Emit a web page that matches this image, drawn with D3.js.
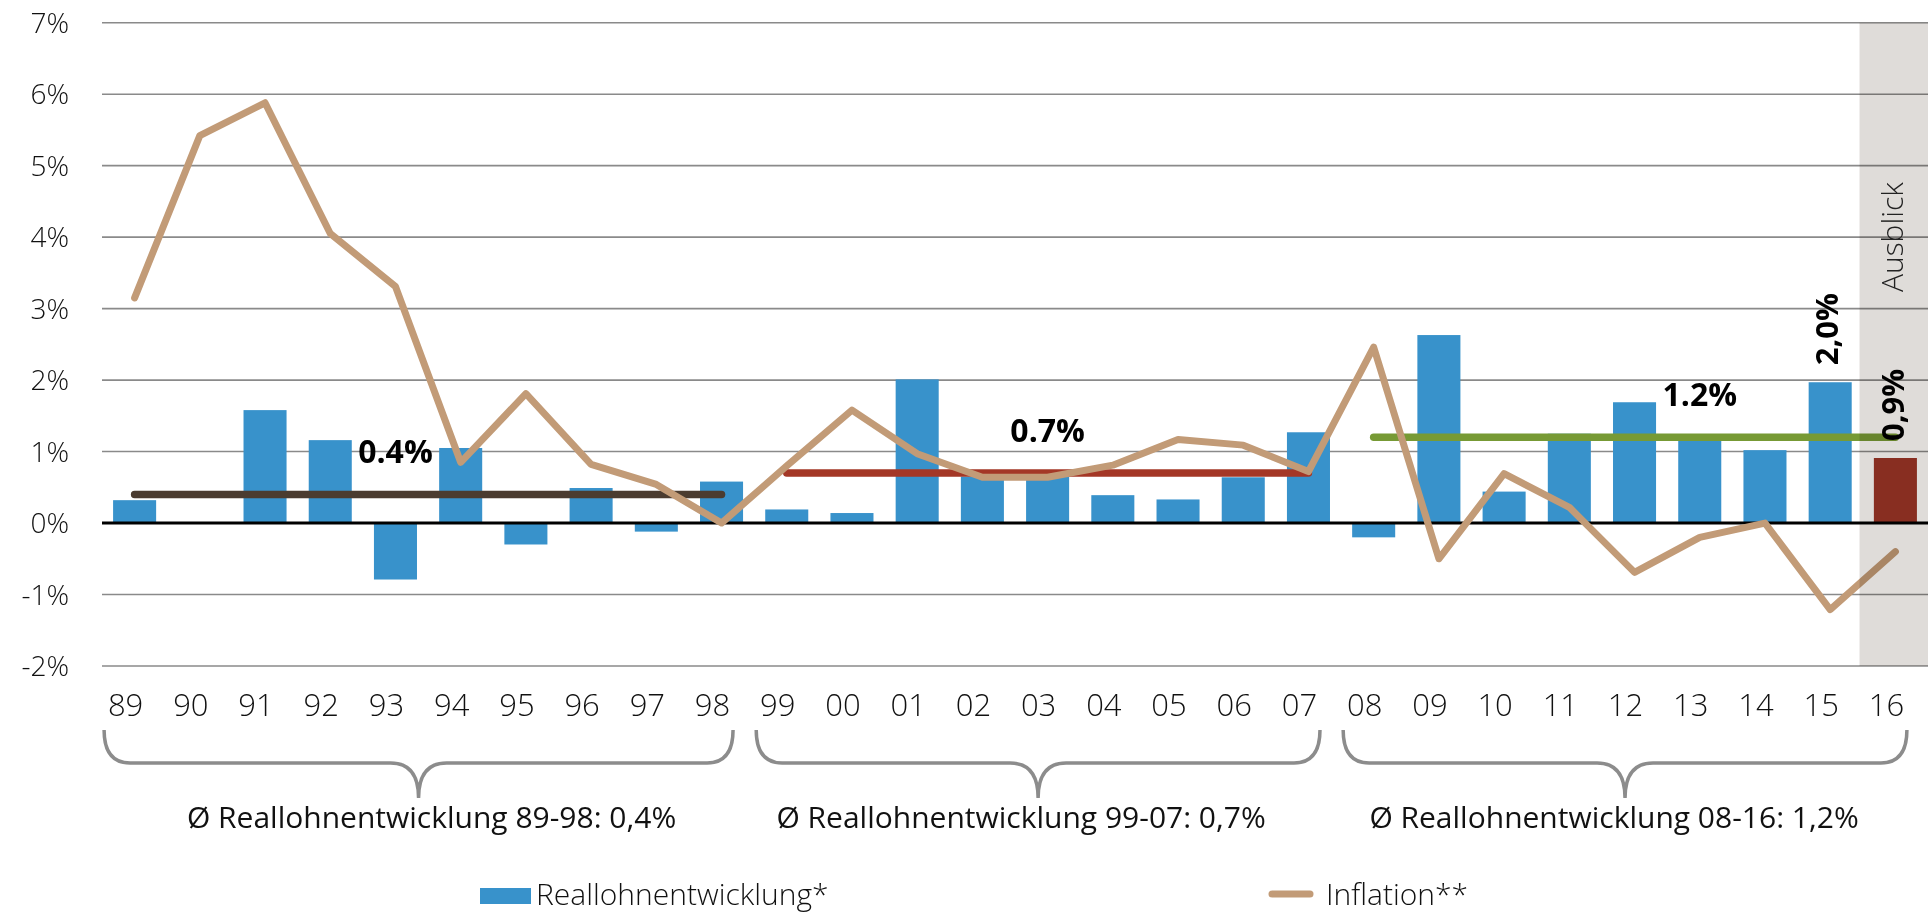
<!DOCTYPE html>
<html>
<head>
<meta charset="utf-8">
<script src="https://cdn.jsdelivr.net/npm/d3@7"></script>
<style>
  body { margin: 0; background: #fff; }
  svg { display: block; font-family: "Open Sans", "Noto Sans", sans-serif; }
</style>
</head>
<body>
<div id="chart"></div>
<script>
// years on the x axis
const years = ['89','90','91','92','93','94','95','96','97','98','99','00','01','02','03','04','05','06','07','08','09','10','11','12','13','14','15','16'];
// Reallohnentwicklung in % (bars)
const reallohn = [0.32, 0, 1.58, 1.16, -0.79, 1.05, -0.30, 0.49, -0.12, 0.58, 0.19, 0.14, 2.01, 0.65, 0.65, 0.39, 0.33, 0.64, 1.27, -0.20, 2.63, 0.44, 1.25, 1.69, 1.22, 1.02, 1.97, 0.91];
// Inflation in % (line)
const inflation = [3.15, 5.42, 5.88, 4.05, 3.31, 0.85, 1.81, 0.82, 0.54, 0.0, 0.80, 1.58, 0.97, 0.64, 0.64, 0.81, 1.17, 1.09, 0.72, 2.46, -0.50, 0.69, 0.22, -0.69, -0.20, 0.0, -1.21, -0.40];
const yTicks = [-2, -1, 0, 1, 2, 3, 4, 5, 6, 7];

// period averages
const periodFrom = ['89', '99', '08'];
const periodTo = ['98', '07', '16'];
const periodAvg = [0.4, 0.7, 1.2];
const periodAvgLabel = ['0.4%', '0.7%', '1.2%'];
const periodLabelAt = ['93', '03', '13'];
const periodText = ['Ø Reallohnentwicklung 89-98: 0,4%', 'Ø Reallohnentwicklung 99-07: 0,7%', 'Ø Reallohnentwicklung 08-16: 1,2%'];
const periodTextShift = [13, -17, -11];
const periodColor = ['#4b3c30', '#a43726', '#779a35'];

// highlighted values
const callouts = [{year: '15', text: '2,0%'}, {year: '16', text: '0,9%'}];
const outlookYear = '16';

const W = 1932, H = 913;
const blue = '#3892cb', brown = '#c29b77', darkRed = '#9b3526';

const svg = d3.select('#chart').append('svg')
    .attr('width', W)
    .attr('height', H);

const x = d3.scaleBand()
    .domain(years)
    .range([102, 1928])
    .paddingInner(0.34)
    .paddingOuter(0.17);
const step = x.step();
const cx = d => x(d) + x.bandwidth() / 2;

const y = d3.scaleLinear()
    .domain([-2, 7])
    .range([666, 22.7]);

// gridlines
svg.append('g').selectAll('line')
    .data(yTicks.filter(t => t !== 0))
    .join('line')
    .attr('x1', 102).attr('x2', 1928)
    .attr('y1', d => y(d)).attr('y2', d => y(d))
    .attr('stroke', '#8a8a8a')
    .attr('stroke-width', 1.6);

// y tick labels
svg.append('g').selectAll('text')
    .data(yTicks)
    .join('text')
    .attr('x', 69)
    .attr('y', d => y(d))
    .attr('dy', '0.36em')
    .attr('text-anchor', 'end')
    .attr('font-size', 28)
    .attr('font-weight', 300)
    .attr('fill', '#111')
    .text(d => d + '%');

// bars
svg.append('g').selectAll('rect')
    .data(years)
    .join('rect')
    .attr('x', d => x(d))
    .attr('width', x.bandwidth())
    .attr('y', (d, i) => y(Math.max(0, reallohn[i])))
    .attr('height', (d, i) => Math.abs(y(reallohn[i]) - y(0)))
    .attr('fill', d => d === outlookYear ? darkRed : blue);

// zero line
svg.append('line')
    .attr('x1', 102).attr('x2', 1928)
    .attr('y1', y(0)).attr('y2', y(0))
    .attr('stroke', '#000')
    .attr('stroke-width', 3);

// average lines
svg.append('g').selectAll('line')
    .data(periodAvg)
    .join('line')
    .attr('x1', (d, i) => cx(periodFrom[i]))
    .attr('x2', (d, i) => cx(periodTo[i]))
    .attr('y1', d => y(d)).attr('y2', d => y(d))
    .attr('stroke', (d, i) => periodColor[i])
    .attr('stroke-width', 7.5)
    .attr('stroke-linecap', 'round');

// inflation line
const line = d3.line()
    .x((d, i) => cx(years[i]))
    .y(d => y(d));

svg.append('path')
    .attr('d', line(inflation))
    .attr('fill', 'none')
    .attr('stroke', brown)
    .attr('stroke-width', 7)
    .attr('stroke-linejoin', 'round')
    .attr('stroke-linecap', 'round');

// outlook shading (multiplied over the marks)
svg.append('rect')
    .attr('x', x(outlookYear) - step * 0.22)
    .attr('width', 1928 - (x(outlookYear) - step * 0.22))
    .attr('y', y(7))
    .attr('height', y(-2) - y(7))
    .attr('fill', '#dfdcd9')
    .style('mix-blend-mode', 'multiply');

svg.append('text')
    .attr('transform', `translate(${cx(outlookYear)},${y(4.0)}) rotate(-90)`)
    .attr('text-anchor', 'middle')
    .attr('dominant-baseline', 'middle')
    .attr('font-size', 30)
    .attr('font-weight', 300)
    .attr('fill', '#222')
    .text('Ausblick');

// average labels
svg.append('g').selectAll('text')
    .data(periodAvgLabel)
    .join('text')
    .attr('x', (d, i) => cx(periodLabelAt[i]))
    .attr('y', (d, i) => y(periodAvg[i]) - 31)
    .attr('text-anchor', 'middle')
    .attr('font-size', 32)
    .attr('font-weight', 700)
    .attr('fill', '#000')
    .text(d => d);

// rotated callouts
svg.append('g').selectAll('text')
    .data(callouts)
    .join('text')
    .attr('transform', d => `translate(${cx(d.year)},${y(reallohn[years.indexOf(d.year)]) - 17}) rotate(-90)`)
    .attr('dominant-baseline', 'middle')
    .attr('font-size', 31)
    .attr('font-weight', 700)
    .attr('fill', '#000')
    .text(d => d.text);

// x labels
svg.append('g').selectAll('text')
    .data(years)
    .join('text')
    .attr('x', d => cx(d) - 9)
    .attr('y', 716)
    .attr('text-anchor', 'middle')
    .attr('font-size', 31)
    .attr('font-weight', 300)
    .attr('fill', '#111')
    .text(d => d);

// braces under the periods
const braceTop = 730, braceMid = 763, braceTip = 798;
const brace = (x0, x1) => {
    const xm = (x0 + x1) / 2, r = 26, r2 = 28;
    return `M${x0},${braceTop} Q${x0},${braceMid} ${x0 + r},${braceMid} L${xm - r2},${braceMid} ` +
        `Q${xm},${braceMid} ${xm},${braceTip} Q${xm},${braceMid} ${xm + r2},${braceMid} ` +
        `L${x1 - r},${braceMid} Q${x1},${braceMid} ${x1},${braceTop}`;
};
const braceX0 = i => x(periodFrom[i]) - 9;
const braceX1 = i => x(periodTo[i]) + x.bandwidth() - 10;

svg.append('g').selectAll('path')
    .data(periodText)
    .join('path')
    .attr('d', (d, i) => brace(braceX0(i), braceX1(i)))
    .attr('fill', 'none')
    .attr('stroke', '#8c8c8c')
    .attr('stroke-width', 3.5);

svg.append('g').selectAll('text')
    .data(periodText)
    .join('text')
    .attr('x', (d, i) => (braceX0(i) + braceX1(i)) / 2 + periodTextShift[i])
    .attr('y', 828)
    .attr('text-anchor', 'middle')
    .attr('font-size', 30)
    .attr('fill', '#111')
    .text(d => d);

// legend
const legend = svg.append('g').attr('font-size', 30).attr('font-weight', 300).attr('fill', '#111');
legend.append('rect')
    .attr('x', 480).attr('y', 888)
    .attr('width', 51).attr('height', 16)
    .attr('fill', blue);
legend.append('text').attr('x', 536).attr('y', 905).text('Reallohnentwicklung*');
legend.append('line')
    .attr('x1', 1272).attr('x2', 1310)
    .attr('y1', 894).attr('y2', 894)
    .attr('stroke', brown)
    .attr('stroke-width', 7)
    .attr('stroke-linecap', 'round');
legend.append('text').attr('x', 1326).attr('y', 905).text('Inflation**');
</script>
</body>
</html>
